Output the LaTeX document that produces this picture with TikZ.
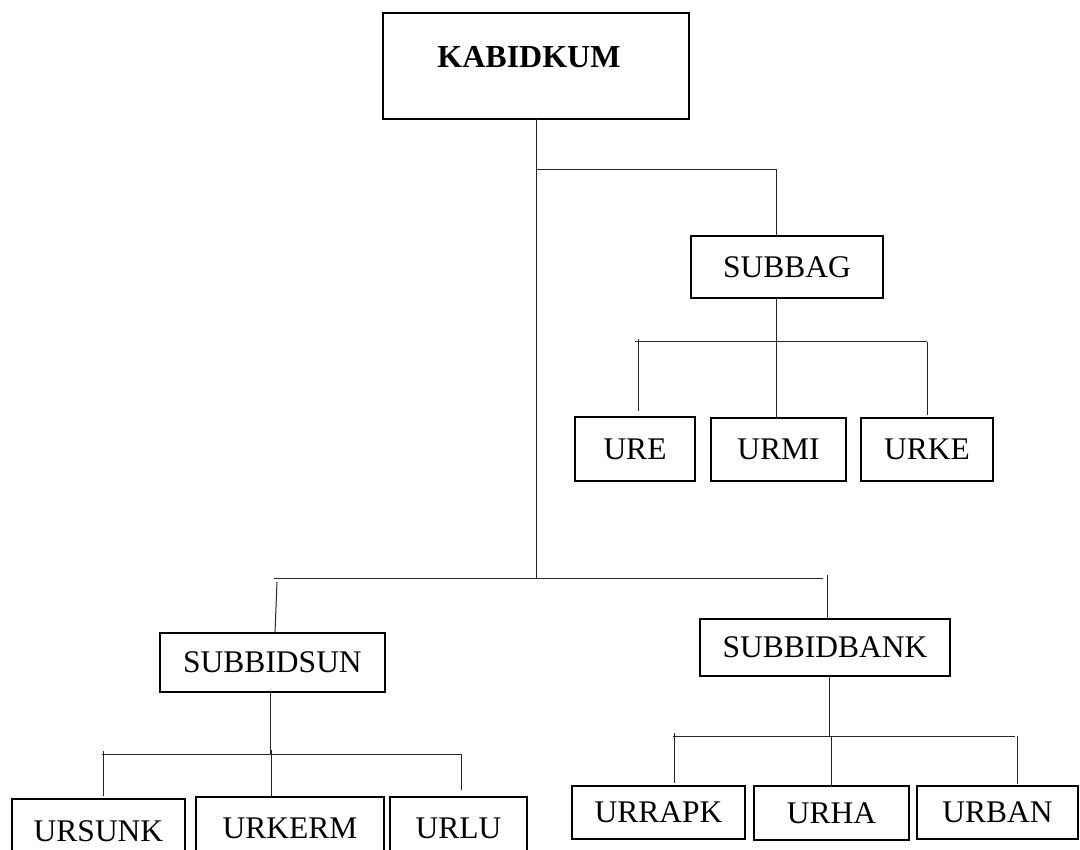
\documentclass[tikz,border=0pt]{standalone}
\usepackage{fontspec}
\setmainfont{Liberation Serif}
\begin{document}
\begin{tikzpicture}[x=1pt,y=-1pt,
  box/.style={draw=black, line width=1.8pt, rectangle, inner sep=0pt, outer sep=0pt,
    font=\fontsize{31.5}{37}\selectfont},
  conn/.style={draw=black!85, line width=1pt}]
\useasboundingbox (0,0) rectangle (1080,850);
\clip (0,0) rectangle (1080,850);
\fill[white] (0,0) rectangle (1080,850);
% boxes
\node[box, minimum width=306pt, minimum height=106pt] (kab) at (536,66) {};
\node[font=\fontsize{32}{37}\selectfont\bfseries, inner sep=0pt, xshift=-7pt, yshift=9pt] (kabt) at (kab.center) {KABIDKUM};
\node[box, minimum width=192pt, minimum height=62pt] (subbag) at (787,267) {SUBBAG};
\node[box, minimum width=120pt, minimum height=64pt] (ure) at (635,449) {URE};
\node[box, minimum width=135pt, minimum height=63pt] (urmi) at (778.5,449.5) {URMI};
\node[box, minimum width=132pt, minimum height=63pt] (urke) at (927,449.5) {URKE};
\node[box, minimum width=225pt, minimum height=59pt] (subbidsun) at (272.5,662.5) {SUBBIDSUN};
\node[box, minimum width=173pt, minimum height=64pt] (ursunk) at (98.5,831) {URSUNK};
\node[box, minimum width=188pt, minimum height=62pt] (urkerm) at (290,828) {URKERM};
\node[box, minimum width=137pt, minimum height=62pt] (urlu) at (458.5,828) {URLU};
\node[box, minimum width=250pt, minimum height=57pt] (subbidbank) at (825,647.5) {SUBBIDBANK};
\node[box, minimum width=173pt, minimum height=53pt] (urrapk) at (658.5,812.5) {URRAPK};
\node[box, minimum width=155pt, minimum height=54pt] (urha) at (831.5,813) {URHA};
\node[box, minimum width=161pt, minimum height=53pt] (urban) at (997.5,812.5) {URBAN};
% junction coordinates
\coordinate (jtop) at (536,170);
\coordinate (jsb) at (776,170);
\coordinate (jbot) at (536,578);
\coordinate (hbL) at (274,578);
\coordinate (hbR) at (823,578);
\coordinate (sbh) at (776,342);
\coordinate (sbhL) at (635,342);
\coordinate (sbhR) at (927,342);
\coordinate (ssh) at (270,754);
\coordinate (sshL) at (102,754);
\coordinate (sshR) at (461,754);
\coordinate (sbkh) at (829,736);
\coordinate (sbkhL) at (673,736);
\coordinate (sbkhR) at (1015,736);
\coordinate (ssT) at (277,582);
\coordinate (ssB) at (275,633);
\coordinate (bkT) at (827,575);
\coordinate (bkB) at (827,619);
\coordinate (c1T) at (638,339);
\coordinate (c1B) at (638,411);
\coordinate (c3B) at (927,415);
\coordinate (d1T) at (103,751);
\coordinate (d1B) at (103,796);
\coordinate (d2T) at (271,750);
\coordinate (d2B) at (271,797);
\coordinate (d3B) at (461,790);
\coordinate (e1T) at (674,733);
\coordinate (e1B) at (674,783);
\coordinate (e2T) at (831,736);
\coordinate (e2B) at (831,786);
\coordinate (e3T) at (1017,736);
\coordinate (e3B) at (1017,784);
% trunk
\draw[conn] (kab.south) -- (jbot);
\draw[conn] (jtop) -- (jsb) -- (jsb |- subbag.north);
% subbag branch
\draw[conn] (subbag.south -| sbh) -- (sbh);
\draw[conn] (sbhL) -- (sbhR);
\draw[conn] (c1T) -- (c1B);
\draw[conn] (sbh) -- (sbh |- urmi.north);
\draw[conn] (sbhR) -- (c3B);
% bottom main horizontal
\draw[conn] (hbL) -- (hbR);
\draw[conn] (ssT) -- (ssB);
\draw[conn] (bkT) -- (bkB);
% subbidsun branch
\draw[conn] (subbidsun.south -| ssh) -- (ssh);
\draw[conn] (sshL) -- (sshR);
\draw[conn] (d1T) -- (d1B);
\draw[conn] (d2T) -- (d2B);
\draw[conn] (sshR) -- (d3B);
% subbidbank branch
\draw[conn] (subbidbank.south -| sbkh) -- (sbkh);
\draw[conn] (sbkhL) -- (sbkhR);
\draw[conn] (e1T) -- (e1B);
\draw[conn] (e2T) -- (e2B);
\draw[conn] (e3T) -- (e3B);
\end{tikzpicture}
\end{document}
